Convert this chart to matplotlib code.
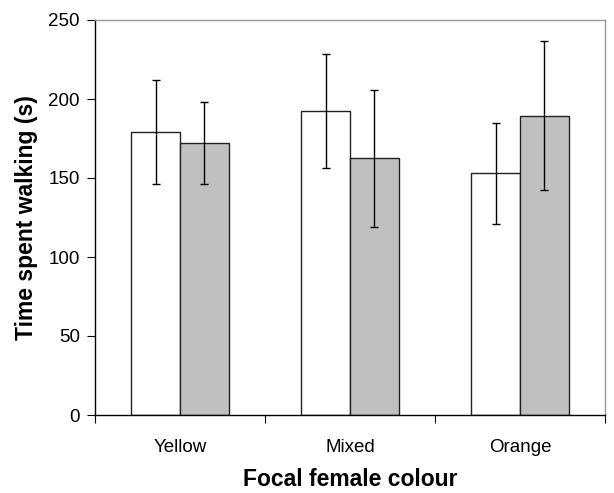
import numpy as np
import matplotlib.pyplot as plt
from matplotlib.ticker import FixedLocator

plt.rcParams['font.family'] = ['Liberation Sans', 'DejaVu Sans']

# data
categories = ["Yellow", "Mixed", "Orange"]
white_vals = [179, 192.5, 153]
white_err = [33, 36, 32]
grey_vals = [172, 162.5, 189.5]
grey_err = [26, 43.5, 47]

fig = plt.figure(figsize=(6.14, 4.93), dpi=100)
ax = fig.add_axes([95/614, 1 - 415/493, 510/614, 395/493])

x = np.arange(len(categories))
w = 0.286
ekw = dict(ecolor="black", elinewidth=1, capsize=2.6, capthick=1)
ax.bar(x - w/2, white_vals, w, yerr=white_err, color="white",
       edgecolor="#222222", linewidth=1, error_kw=ekw)
ax.bar(x + w/2, grey_vals, w, yerr=grey_err, color="#C0C0C0",
       edgecolor="#222222", linewidth=1, error_kw=ekw)

ax.set_xlim(-0.5, 2.5)
ax.set_ylim(0, 250)
ax.set_yticks([0, 50, 100, 150, 200, 250])

# category boundaries as ticks, labels in the middle
ax.set_xticks([-0.5, 0.5, 1.5, 2.5])
ax.set_xticklabels([])
ax.xaxis.set_minor_locator(FixedLocator(x))
ax.set_xticklabels(categories, minor=True)
ax.tick_params(axis="x", which="minor", length=0, pad=17, labelsize=13.5)
ax.tick_params(axis="x", which="major", length=6, direction="out")
ax.tick_params(axis="y", length=6, direction="out", labelsize=13.5, pad=5)

for s in ["top", "right"]:
    ax.spines[s].set_color("#999999")
    ax.spines[s].set_linewidth(1)
for s in ["left", "bottom"]:
    ax.spines[s].set_color("black")
    ax.spines[s].set_linewidth(1)

ax.set_ylabel("Time spent walking (s)", fontsize=16.5, fontweight="bold", labelpad=7)
ax.set_xlabel("Focal female colour", fontsize=16.5, fontweight="bold", labelpad=9)

fig.savefig("out.png", dpi=100)
